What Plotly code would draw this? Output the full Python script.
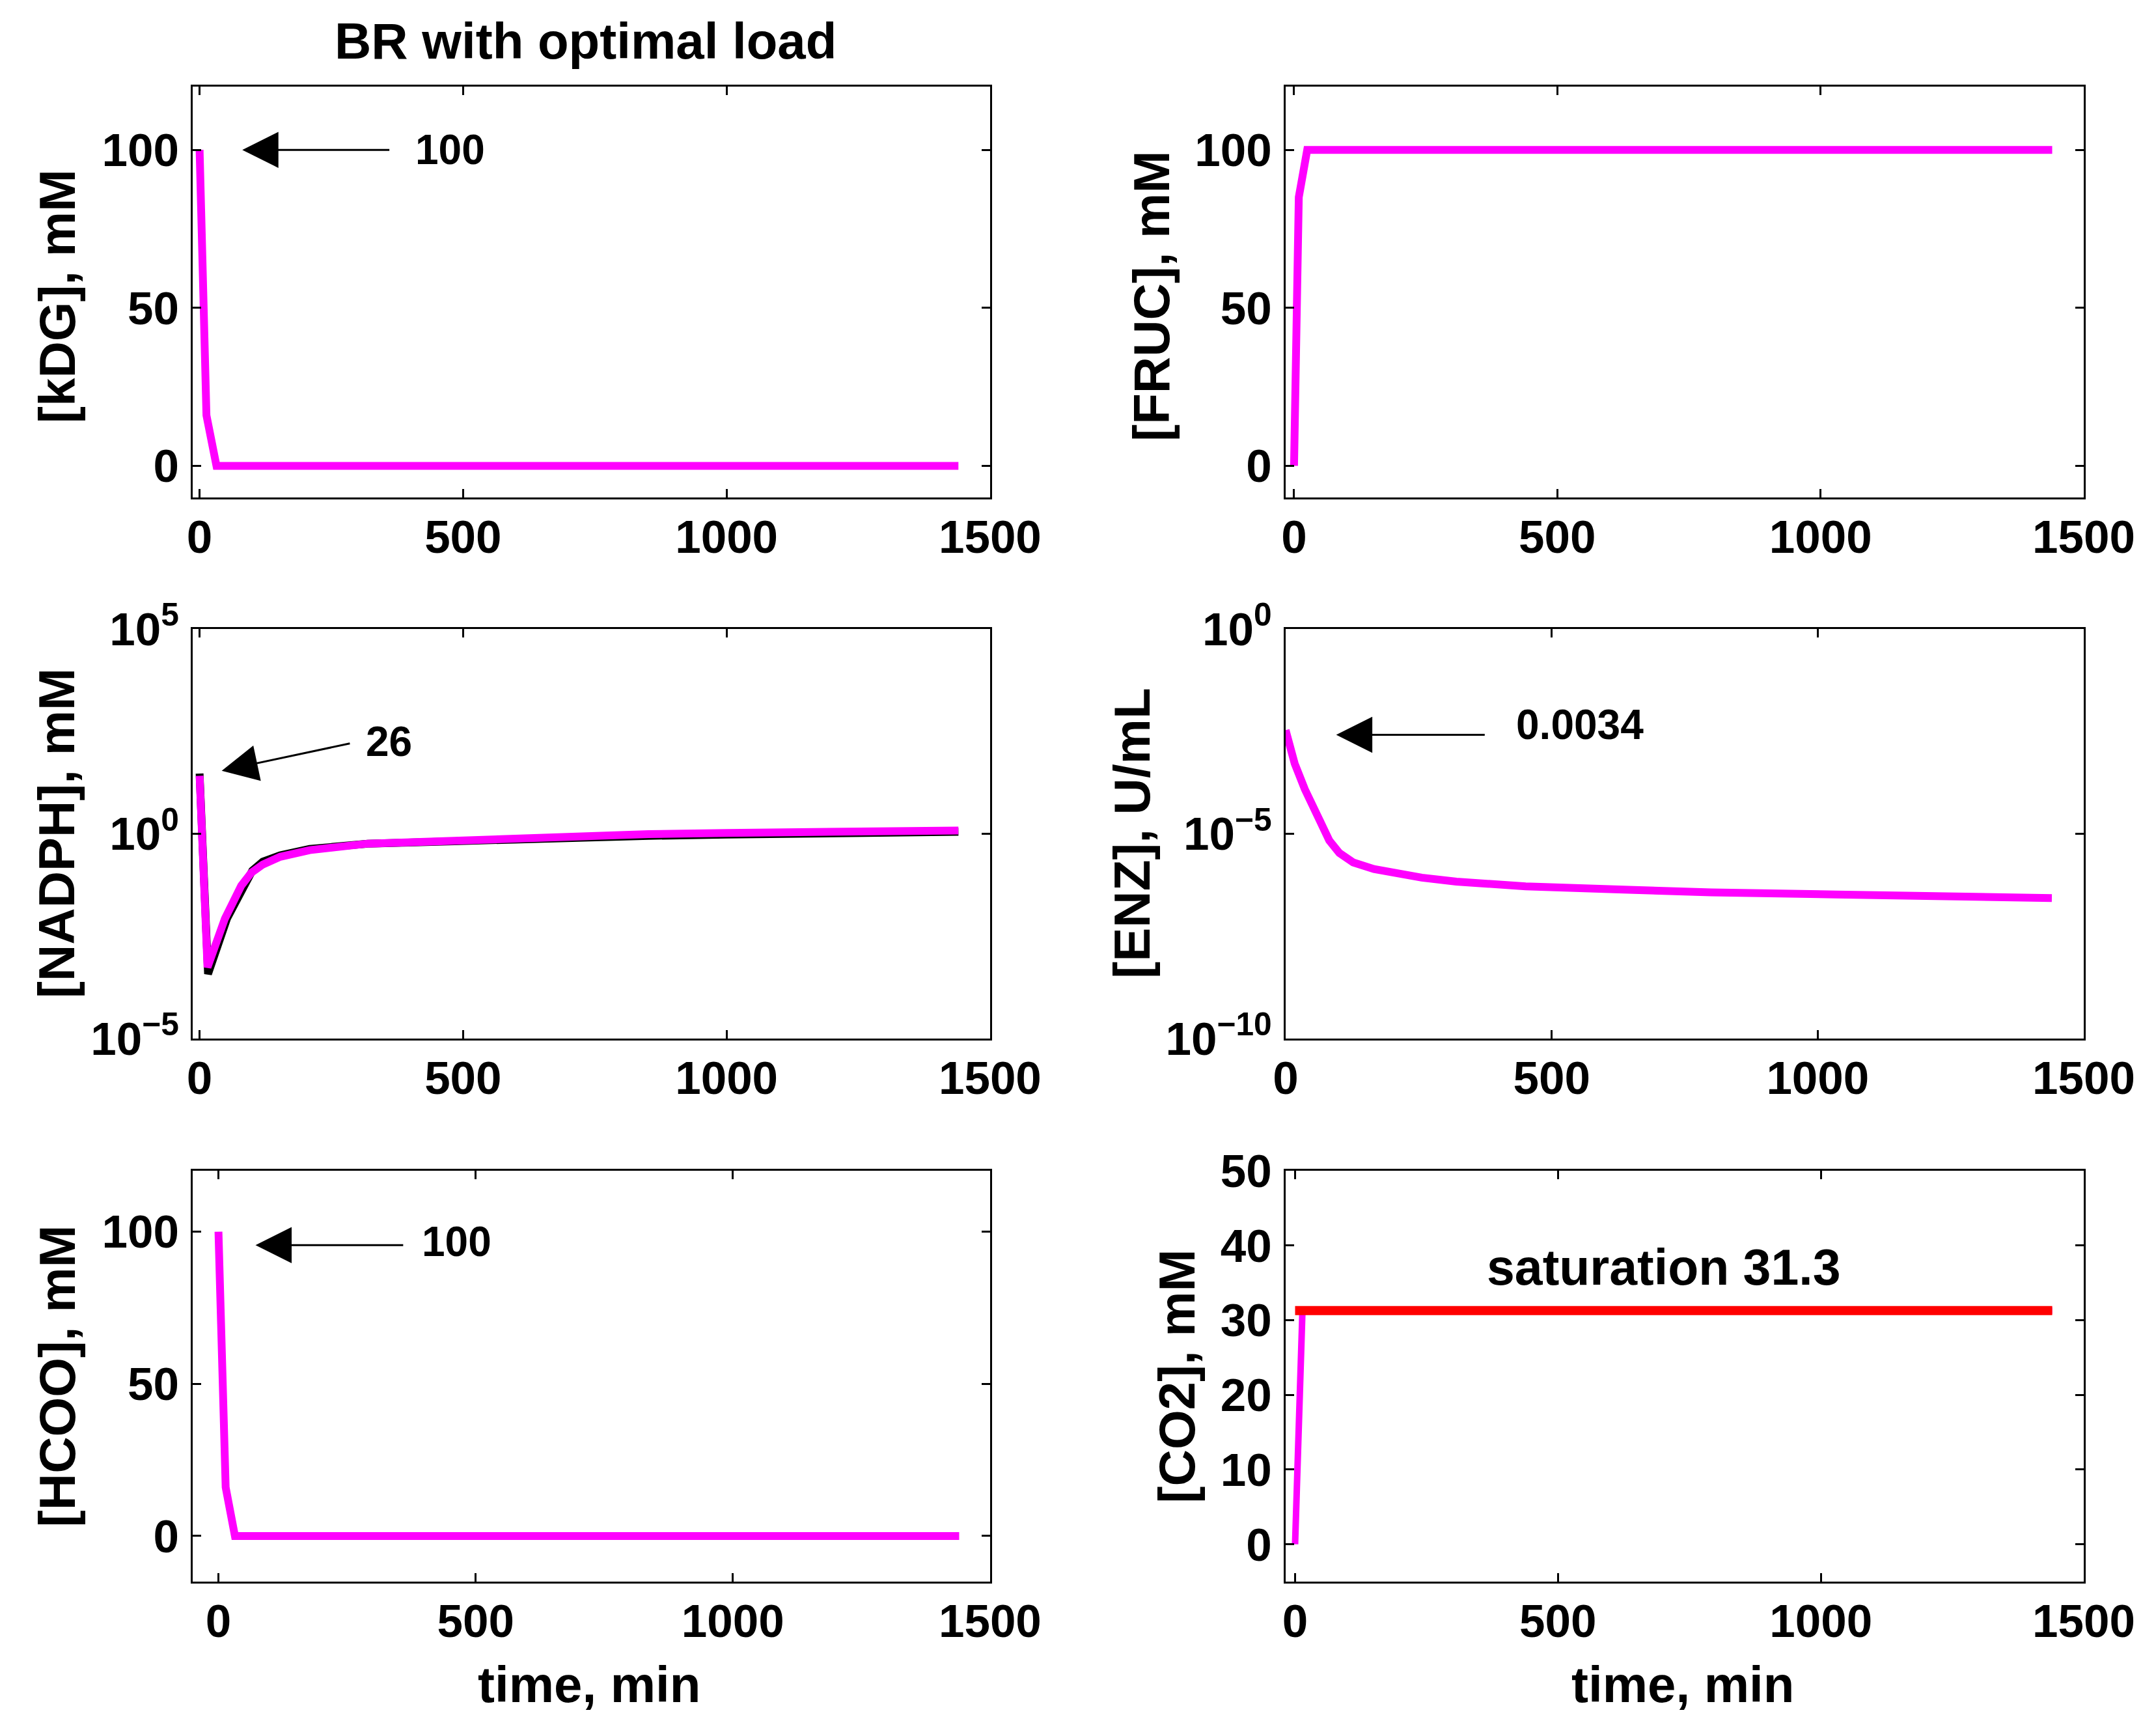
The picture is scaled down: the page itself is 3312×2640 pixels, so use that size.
import plotly.graph_objects as go

# ---- data ----
# kDG, mM
t_kdg = [0, 13, 32, 1440]
kdg = [100, 16, 0, 0]

# FRUC, mM
t_fruc = [0, 9, 25, 32, 1440]
fruc = [0, 85, 100, 100, 100]

# NADPH, mM (two runs: black under magenta)
t_nadph = [0, 15, 48, 79, 98, 120, 153, 209, 319, 484, 650, 852, 1000, 1200, 1440]
nadph = [26, 5.5e-4, 8.5e-3, 0.054, 0.112, 0.178, 0.275, 0.40, 0.575, 0.69, 0.83, 0.98, 1.05, 1.12, 1.2]
t_nadph_b = [0, 16, 52, 83, 100, 120, 153, 209, 319, 484, 650, 852, 1000, 1200, 1440]
nadph_b = [29.5, 3.8e-4, 8.5e-3, 0.054, 0.126, 0.209, 0.30, 0.427, 0.575, 0.66, 0.776, 0.89, 0.955, 1.05, 1.12]

# ENZ, U/mL
t_enz = [0, 17, 36, 62, 82, 101, 127, 166, 205, 256, 321, 451, 645, 800, 1034, 1440]
enz = [3.4e-3, 5.2e-4, 1.23e-4, 2.4e-5, 6.9e-6, 3.4e-6, 2.0e-6, 1.38e-6, 1.07e-6, 8.5e-7,
       6.8e-7, 5.2e-7, 4.3e-7, 3.7e-7, 3.3e-7, 2.7e-7]

# HCOO, mM
t_hcoo = [0, 14, 32, 1440]
hcoo = [100, 16, 0, 0]

# CO2, mM and saturation level
t_co2 = [0, 14, 30, 1440]
co2 = [0, 31.3, 31.3, 31.3]
t_sat = [0, 1440]
co2_sat = [31.3, 31.3]

x_ticks = [0, 500, 1000, 1500]

FONT = "Liberation Sans, Arial, sans-serif"
MAG = "#ff00ff"

col_x = [(0.0894, 0.4592), (0.5963, 0.9665)]
row_y = [(0.7106, 0.9496), (0.3958, 0.6341), (0.0799, 0.3189)]

fig = go.Figure()

def add_line(n, x, y, color, width):
    sfx = "" if n == 1 else str(n)
    fig.add_trace(go.Scatter(x=x, y=y, mode="lines", line=dict(color=color, width=width),
                             xaxis="x" + sfx, yaxis="y" + sfx, showlegend=False))

add_line(1, t_kdg, kdg, MAG, 12)
add_line(2, t_fruc, fruc, MAG, 12)
add_line(3, t_nadph_b, nadph_b, "black", 12)
add_line(3, t_nadph, nadph, MAG, 12)
add_line(4, t_enz, enz, MAG, 12)
add_line(5, t_hcoo, hcoo, MAG, 12)
add_line(6, t_co2, co2, MAG, 10)
add_line(6, t_sat, co2_sat, "red", 14)

tickfont = dict(family=FONT, size=71, color="black", weight="bold")
common = dict(showline=True, linecolor="black", linewidth=3, mirror="ticks", ticks="inside",
              ticklen=13, tickwidth=3, tickcolor="black", showgrid=False, zeroline=False,
              tickfont=tickfont, automargin=False)

x_ranges = [[-13, 1500], [-16, 1500], [-13, 1500], [0, 1500], [-50, 1500], [-18, 1500]]
y_specs = [
    dict(range=[-10, 120], tickvals=[0, 50, 100]),
    dict(range=[-10, 120], tickvals=[0, 50, 100]),
    dict(type="log", range=[-5, 5], tickvals=[1e-5, 1, 1e5],
         ticktext=["10<sup>\u22125</sup>", "10<sup>0</sup>", "10<sup>5</sup>"]),
    dict(type="log", range=[-10, 0], tickvals=[1e-10, 1e-5, 1],
         ticktext=["10<sup>\u221210</sup>", "10<sup>\u22125</sup>", "10<sup>0</sup>"]),
    dict(range=[-15, 120], tickvals=[0, 50, 100]),
    dict(range=[-5, 50], tickvals=[0, 10, 20, 30, 40, 50]),
]

layout = dict(template="none", width=3312, height=2640, margin=dict(l=0, r=0, t=0, b=0),
              paper_bgcolor="white", plot_bgcolor="white", showlegend=False,
              font=dict(family=FONT, color="black", weight="bold"))
for i in range(6):
    n = i + 1
    sfx = "" if n == 1 else str(n)
    r, c = divmod(i, 2)
    layout["xaxis" + sfx] = dict(domain=list(col_x[c]), range=x_ranges[i], tickvals=x_ticks,
                                 anchor="y" + sfx, ticklabelstandoff=-3, **common)
    layout["yaxis" + sfx] = dict(domain=list(row_y[r]), anchor="x" + sfx,
                                 ticklabelstandoff=4, **y_specs[i], **common)
fig.update_layout(**layout)

def arrow(n, hx, hy, tx, ty):
    sfx = "" if n == 1 else str(n)
    fig.add_annotation(x=hx, y=hy, ax=tx, ay=ty, xref="x" + sfx, yref="y" + sfx,
                       axref="x" + sfx, ayref="y" + sfx, text="", showarrow=True,
                       arrowhead=2, arrowsize=3.7, arrowwidth=3, arrowcolor="black")

def label(n, x, y, text, size=64):
    sfx = "" if n == 1 else str(n)
    fig.add_annotation(x=x, y=y, xref="x" + sfx, yref="y" + sfx, text=text, showarrow=False,
                       xanchor="center", yanchor="middle",
                       font=dict(family=FONT, size=size, color="black", weight="bold"))

def paper_text(x, y, text, size=78, angle=0):
    fig.add_annotation(x=x, y=y, xref="paper", yref="paper", text=text, textangle=angle,
                       showarrow=False, xanchor="center", yanchor="middle",
                       font=dict(family=FONT, size=size, color="black", weight="bold"))

# annotations (log axes take log10 positions)
arrow(1, 81, 100, 362, 100)
label(1, 476, 100, "100")
arrow(3, 42, 1.54, 287, 2.21)
label(3, 359, 2.25, "26")
arrow(4, 95, -2.585, 376, -2.585)
label(4, 553, -2.34, "0.0034")
arrow(5, 72, 95.6, 361, 95.6)
label(5, 463, 96.8, "100")
label(6, 701, 37.1, "saturation 31.3", size=77)

# y-axis labels
ylabels = [("[kDG], mM", 0.0266, 0.8277), ("[FRUC], mM", 0.5341, 0.8277),
           ("[NADPH], mM", 0.0263, 0.5152), ("[ENZ], U/mL", 0.525, 0.5152),
           ("[HCOO], mM", 0.0266, 0.1996), ("[CO2], mM", 0.546, 0.1996)]
for txt, px, py in ylabels:
    paper_text(px, py, txt, angle=-90)

for px in [0.2733, 0.7805]:
    paper_text(px, 0.0201, "time, min")

paper_text(0.2717, 0.976, "BR with optimal load")

fig.write_html("out.html", config={"displayModeBar": False},
               post_script="document.body.style.margin='0';")
